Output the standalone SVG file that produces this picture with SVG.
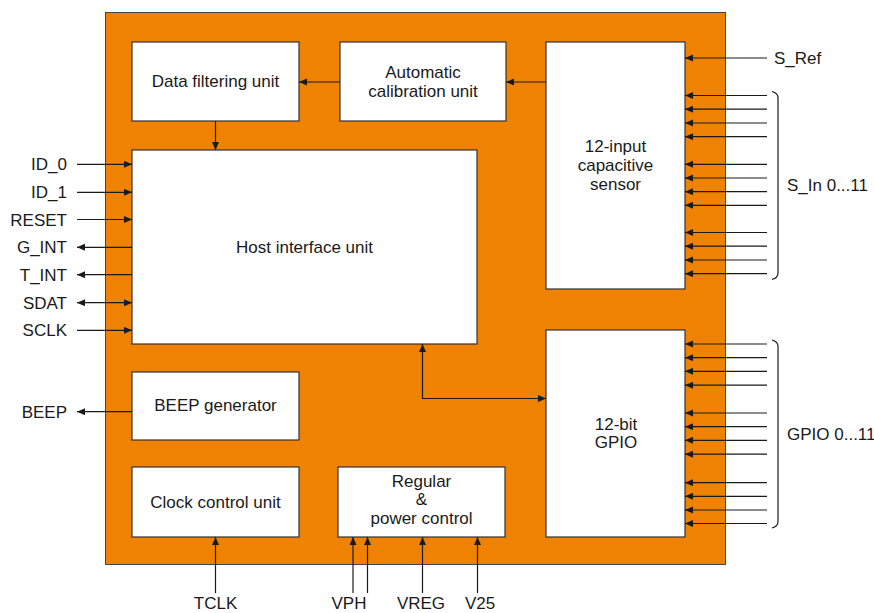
<svg xmlns="http://www.w3.org/2000/svg" width="874" height="613" viewBox="0 0 874 613">
<defs>
<marker id="ah" markerUnits="userSpaceOnUse" markerWidth="9" markerHeight="8" refX="8" refY="3.5" orient="auto-start-reverse">
<path d="M0,0 L8,3.5 L0,7 z" fill="#1a1a1a"/>
</marker>
<style>
.blk{fill:#fff;stroke:#333;stroke-width:1.2}
.t{font-family:"Liberation Sans",Arial,sans-serif;font-size:17px;fill:#1a1a1a}
.m{text-anchor:middle}
.e{text-anchor:end}
.c{stroke:#1a1a1a;stroke-width:1.2;fill:none}
.a{marker-end:url(#ah)}
.b{marker-start:url(#ah);marker-end:url(#ah)}
.s{marker-start:url(#ah)}
</style>
</defs>
<rect width="874" height="613" fill="#fff"/>
<rect id="chip" x="105.5" y="12.5" width="620" height="552" fill="#EF8200" stroke="#444" stroke-width="1"/>

<g id="data-filtering">
<rect class="blk" x="132" y="42" width="167" height="79"/>
<text class="t m" x="215.5" y="87">Data filtering unit</text>
</g>
<g id="auto-calibration">
<rect class="blk" x="340" y="42" width="166" height="79"/>
<text class="t m" x="423" y="78">Automatic</text>
<text class="t m" x="423" y="97">calibration unit</text>
</g>
<g id="cap-sensor">
<rect class="blk" x="546" y="42" width="139" height="247"/>
<text class="t m" x="615.5" y="152">12-input</text>
<text class="t m" x="615.5" y="171">capacitive</text>
<text class="t m" x="615.5" y="190">sensor</text>
</g>
<g id="host-interface">
<rect class="blk" x="132" y="150" width="345" height="194"/>
<text class="t m" x="304.5" y="253">Host interface unit</text>
</g>
<g id="beep-gen">
<rect class="blk" x="132" y="372" width="167" height="68"/>
<text class="t m" x="215.5" y="411">BEEP generator</text>
</g>
<g id="clock-control">
<rect class="blk" x="132" y="467" width="167" height="70"/>
<text class="t m" x="215.5" y="508">Clock control unit</text>
</g>
<g id="power-control">
<rect class="blk" x="338" y="467" width="167" height="70"/>
<text class="t m" x="421.5" y="487">Regular</text>
<text class="t m" x="421.5" y="505">&amp;</text>
<text class="t m" x="421.5" y="524">power control</text>
</g>
<g id="gpio">
<rect class="blk" x="546" y="330" width="139" height="207"/>
<text class="t m" x="616" y="430">12-bit</text>
<text class="t m" x="616" y="448">GPIO</text>
</g>

<g id="connectors">
<path class="c a" d="M340,82 H299"/>
<path class="c a" d="M546,82 H506"/>
<path class="c a" d="M215.5,121 V150"/>
<path class="c b" d="M422.5,344 V398.5 H546"/>

<path class="c a" d="M767,58 H685"/>
<path class="c a" d="M767,95.5 H685"/>
<path class="c a" d="M767,109.2 H685"/>
<path class="c a" d="M767,123 H685"/>
<path class="c a" d="M767,136.7 H685"/>
<path class="c a" d="M767,164.3 H685"/>
<path class="c a" d="M767,178 H685"/>
<path class="c a" d="M767,191.7 H685"/>
<path class="c a" d="M767,205.3 H685"/>
<path class="c a" d="M767,232.5 H685"/>
<path class="c a" d="M767,246.2 H685"/>
<path class="c a" d="M767,260 H685"/>
<path class="c a" d="M767,273.7 H685"/>
<path class="c" d="M772,91.5 Q778,93 778,98 V273 Q778,278 772,279.5"/>

<path class="c a" d="M767,344 H685"/>
<path class="c a" d="M767,357.7 H685"/>
<path class="c a" d="M767,371.3 H685"/>
<path class="c a" d="M767,385.2 H685"/>
<path class="c a" d="M767,413 H685"/>
<path class="c a" d="M767,426.7 H685"/>
<path class="c a" d="M767,440.3 H685"/>
<path class="c a" d="M767,454.2 H685"/>
<path class="c a" d="M767,482.7 H685"/>
<path class="c a" d="M767,496.3 H685"/>
<path class="c a" d="M767,510 H685"/>
<path class="c a" d="M767,523.5 H685"/>
<path class="c" d="M772,340 Q778,341.5 778,346.5 V521.5 Q778,526.5 772,528"/>

<path class="c a" d="M77,164.3 H132"/>
<path class="c a" d="M77,192.3 H132"/>
<path class="c a" d="M77,219.5 H132"/>
<path class="c s" d="M77,247.3 H132"/>
<path class="c s" d="M77,274.7 H132"/>
<path class="c b" d="M77,302.7 H132"/>
<path class="c a" d="M77,330.3 H132"/>
<path class="c s" d="M77,411.7 H132"/>

<path class="c a" d="M215.5,593 V537"/>
<path class="c a" d="M353,593 V537"/>
<path class="c a" d="M367.5,593 V537"/>
<path class="c a" d="M422.5,593 V537"/>
<path class="c a" d="M477.5,593 V537"/>
</g>

<g id="labels">
<text class="t" x="774" y="64">S_Ref</text>
<text class="t" x="787" y="191">S_In 0...11</text>
<text class="t" x="787" y="440">GPIO 0...11</text>
<text class="t e" x="67" y="170">ID_0</text>
<text class="t e" x="67" y="198">ID_1</text>
<text class="t e" x="67" y="225.5">RESET</text>
<text class="t e" x="67" y="253">G_INT</text>
<text class="t e" x="67" y="280.5">T_INT</text>
<text class="t e" x="67" y="308.5">SDAT</text>
<text class="t e" x="67" y="336">SCLK</text>
<text class="t e" x="67" y="417.5">BEEP</text>
<text class="t m" x="215.5" y="608.5">TCLK</text>
<text class="t m" x="349" y="608.5">VPH</text>
<text class="t m" x="421" y="608.5">VREG</text>
<text class="t m" x="480" y="608.5">V25</text>
</g>
</svg>
